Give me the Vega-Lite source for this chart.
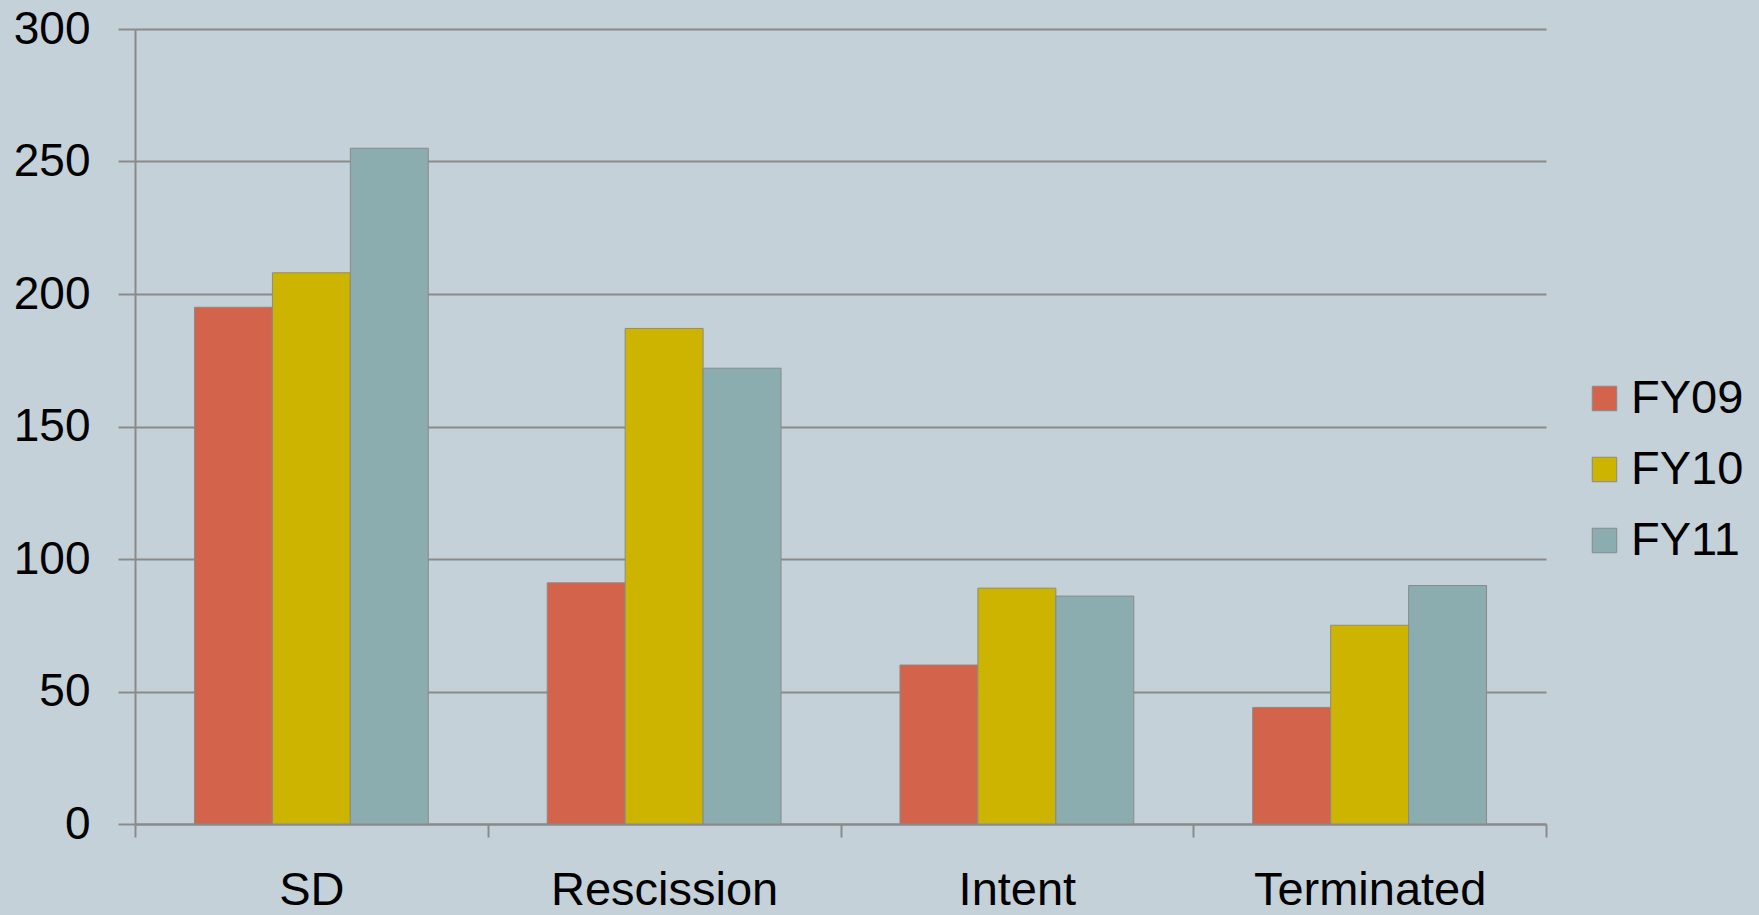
{
  "$schema": "https://vega.github.io/schema/vega-lite/v6.json",
  "width": 1411,
  "height": 795,
  "autosize": {"type": "none"},
  "padding": {"left": 135, "top": 29, "right": 213, "bottom": 91},
  "background": "#C5D1D8",
  "config": {
    "view": {"stroke": null},
    "font": "Liberation Sans"
  },
  "data": {
    "values": [
      {"category": "SD", "year": "FY09", "value": 195},
      {"category": "SD", "year": "FY10", "value": 208},
      {"category": "SD", "year": "FY11", "value": 255},
      {"category": "Rescission", "year": "FY09", "value": 91},
      {"category": "Rescission", "year": "FY10", "value": 187},
      {"category": "Rescission", "year": "FY11", "value": 172},
      {"category": "Intent", "year": "FY09", "value": 60},
      {"category": "Intent", "year": "FY10", "value": 89},
      {"category": "Intent", "year": "FY11", "value": 86},
      {"category": "Terminated", "year": "FY09", "value": 44},
      {"category": "Terminated", "year": "FY10", "value": 75},
      {"category": "Terminated", "year": "FY11", "value": 90}
    ]
  },
  "mark": {"type": "bar", "stroke": "#8a8a8a", "strokeWidth": 1},
  "encoding": {
    "x": {
      "field": "category",
      "type": "nominal",
      "sort": ["SD", "Rescission", "Intent", "Terminated"],
      "scale": {"paddingInner": 0, "paddingOuter": 0},
      "axis": {
        "title": null,
        "labelAngle": 0,
        "labelFontSize": 47,
        "labelLimit": 0,
        "labelColor": "#000000",
        "labelPadding": 30,
        "tickBand": "extent",
        "tickSize": 13,
        "tickColor": "#8a8a8a",
        "tickWidth": 2,
        "domainColor": "#8a8a8a",
        "domainWidth": 2,
        "grid": false
      }
    },
    "xOffset": {
      "field": "year",
      "type": "nominal",
      "scale": {"paddingInner": 0, "paddingOuter": 0.763}
    },
    "y": {
      "field": "value",
      "type": "quantitative",
      "scale": {"domain": [0, 300], "nice": false},
      "axis": {
        "title": null,
        "values": [0, 50, 100, 150, 200, 250, 300],
        "labelFontSize": 46,
        "labelColor": "#000000",
        "labelPadding": 28,
        "tickSize": 17,
        "tickColor": "#8a8a8a",
        "tickWidth": 2,
        "domainColor": "#8a8a8a",
        "domainWidth": 2,
        "gridColor": "#8a8a8a",
        "gridWidth": 2
      }
    },
    "color": {
      "field": "year",
      "type": "nominal",
      "scale": {"domain": ["FY09", "FY10", "FY11"], "range": ["#D4634B", "#CDB400", "#8BADAF"]},
      "legend": {
        "title": null,
        "orient": "none",
        "legendX": 1446,
        "legendY": 346,
        "symbolType": "square",
        "symbolSize": 600,
        "symbolStrokeColor": "#8a8a8a",
        "symbolStrokeWidth": 1,
        "labelFontSize": 47,
        "labelLimit": 0,
        "labelColor": "#000000",
        "labelOffset": 3,
        "rowPadding": 23
      }
    }
  }
}
